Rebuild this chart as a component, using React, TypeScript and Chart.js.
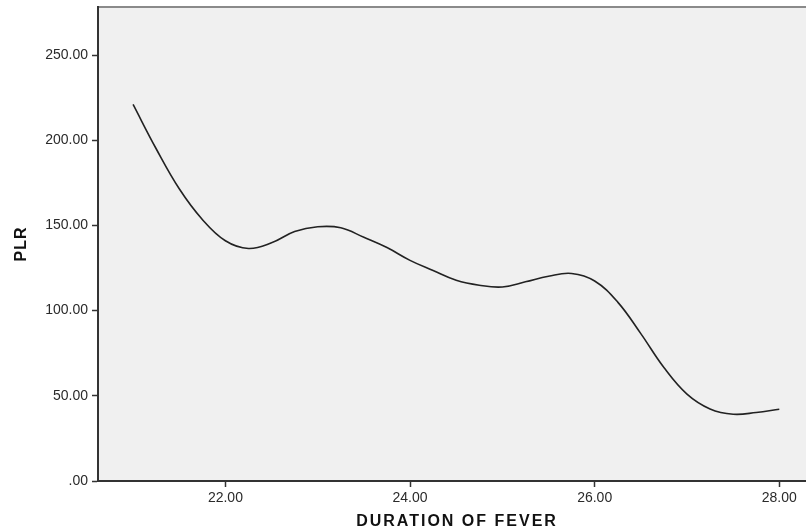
import React, { useEffect, useRef } from "react";
import { Chart, registerables } from "chart.js";

Chart.register(...registerables);

// Duration of fever (days) against PLR, sampled every quarter day along the fitted curve
const durations = [
  21, 21.25, 21.5, 21.75, 22, 22.25, 22.5, 22.75, 23, 23.25, 23.5, 23.75, 24, 24.25, 24.5,
  24.75, 25, 25.25, 25.5, 25.75, 26, 26.25, 26.5, 26.75, 27, 27.25, 27.5, 27.75, 28,
];
const plrValues = [
  221.0, 195.0, 171.5, 153.5, 141.0, 136.5, 139.8, 146.4, 149.2, 148.6, 143.0, 137.0, 129.5, 123.5, 117.8,
  114.9, 113.9, 116.9, 120.2, 121.8, 117.4, 105.0, 86.5, 66.6, 51.0, 42.3, 39.2, 40.2, 42.1,
];

const yTicks = [0, 50, 100, 150, 200, 250];
const xTicks = [22, 24, 26, 28];

const xTitle = "DURATION OF FEVER";
const yTitle = "PLR";

const W = 814;
const H = 531;

const panelPlugin = {
  id: "panel",
  beforeDraw(chart: any) {
    const { ctx, chartArea } = chart;
    ctx.save();
    ctx.fillStyle = "#ffffff";
    ctx.fillRect(0, 0, chart.width, chart.height);
    ctx.fillStyle = "#f0f0f0";
    ctx.fillRect(chartArea.left, chartArea.top, chartArea.right - chartArea.left, chartArea.bottom - chartArea.top);
    ctx.strokeStyle = "#8a8a8a";
    ctx.lineWidth = 2;
    ctx.beginPath();
    ctx.moveTo(chartArea.left, chartArea.top);
    ctx.lineTo(chartArea.right, chartArea.top);
    ctx.stroke();
    ctx.restore();
  },
  afterDraw(chart: any) {
    const { ctx, chartArea } = chart;
    ctx.save();
    ctx.fillStyle = "#111111";
    ctx.font = "bold 16px 'Liberation Sans', Arial, sans-serif";
    ctx.textAlign = "center";
    ctx.textBaseline = "middle";
    (ctx as any).letterSpacing = "2px";
    ctx.fillText(xTitle, (chartArea.left + chartArea.right) / 2 + 1, 522);
    ctx.translate(22, (chartArea.top + chartArea.bottom) / 2);
    ctx.rotate(-Math.PI / 2);
    (ctx as any).letterSpacing = "1px";
    ctx.fillText(yTitle, 0, 0);
    ctx.restore();
  },
};

export default function App() {
  const ref = useRef<HTMLCanvasElement | null>(null);

  useEffect(() => {
    if (!ref.current) return;
    const tickFont = { family: "'Liberation Sans', Arial, sans-serif", size: 14 };
    const chart = new Chart(ref.current, {
      type: "line",
      data: {
        datasets: [
          {
            data: durations.map((d, i) => ({ x: d, y: plrValues[i] })),
            borderColor: "#222222",
            borderWidth: 1.6,
            pointRadius: 0,
            tension: 0.4,
            fill: false,
          },
        ],
      },
      options: {
        animation: false,
        responsive: false,
        devicePixelRatio: 1,
        layout: { padding: { top: 7, left: 0, right: 0, bottom: 0 } },
        plugins: { legend: { display: false }, tooltip: { enabled: false } },
        scales: {
          x: {
            type: "linear",
            min: 20.62,
            max: 28.376,
            afterBuildTicks: (s: any) => {
              s.ticks = xTicks.map((v) => ({ value: v }));
            },
            afterFit: (s: any) => {
              s.height = 50;
              s.paddingLeft = 0;
              s.paddingRight = 0;
            },
            ticks: {
              color: "#2a2a2a",
              font: tickFont,
              padding: 3,
              maxRotation: 0,
              callback: (v: any) => Number(v).toFixed(2),
            },
            grid: { drawOnChartArea: false, drawTicks: true, tickLength: 6, tickColor: "#333333", tickWidth: 1.5 },
            border: { display: true, color: "#333333", width: 2 },
          },
          y: {
            type: "linear",
            min: 0,
            max: 278.2,
            afterBuildTicks: (s: any) => {
              s.ticks = yTicks.map((v) => ({ value: v }));
            },
            afterFit: (s: any) => {
              s.width = 98;
              s.paddingTop = 0;
              s.paddingBottom = 0;
            },
            ticks: {
              color: "#2a2a2a",
              font: tickFont,
              padding: 4,
              callback: (v: any) => (Number(v) === 0 ? ".00" : Number(v).toFixed(2)),
            },
            grid: { drawOnChartArea: false, drawTicks: true, tickLength: 6, tickColor: "#333333", tickWidth: 1.5 },
            border: { display: true, color: "#333333", width: 2 },
          },
        },
      },
      plugins: [panelPlugin],
    });
    return () => chart.destroy();
  }, []);

  return (
    <div style={{ position: "fixed", left: 0, top: 0, width: 806, height: 531, overflow: "hidden", background: "#ffffff" }}>
      <canvas ref={ref} width={W} height={H} style={{ width: W, height: H, display: "block" }} />
    </div>
  );
}
